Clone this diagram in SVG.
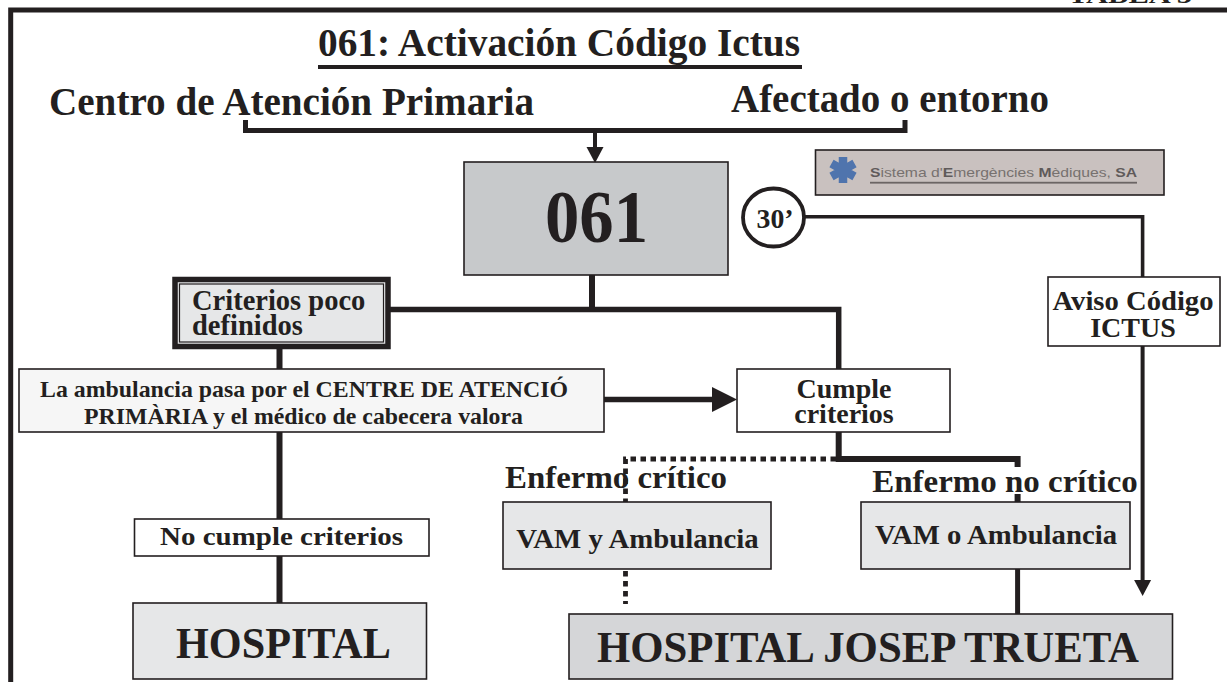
<svg xmlns="http://www.w3.org/2000/svg" width="1227" height="682" viewBox="0 0 1227 682">
<style>
text{font-family:"Liberation Serif","Times New Roman",serif;font-weight:bold;fill:#231f20;text-anchor:middle}
.b{stroke:#231f20;stroke-width:1.6}
.l{fill:none;stroke:#231f20;stroke-linejoin:miter}
.d{fill:none;stroke:#231f20;stroke-width:4.800;stroke-dasharray:5.500 4.500}
.logo{font-family:"Liberation Sans",Arial,sans-serif;font-weight:normal;fill:#77716f;text-anchor:start}
.logo tspan{font-weight:bold;fill:#5f5a5a}
</style>
<defs>
<marker id="a" markerUnits="userSpaceOnUse" markerWidth="17" markerHeight="18" refX="0" refY="9" orient="auto"><path d="M0 0.500L16 9L0 17.500Z" fill="#231f20"/></marker>
<marker id="A" markerUnits="userSpaceOnUse" markerWidth="26" markerHeight="26" refX="0" refY="13" orient="auto"><path d="M0 0.500L25 13L0 25.500Z" fill="#231f20"/></marker>
</defs>
<rect width="1227" height="682" fill="#fff"/>
<g id="frame"><path class="l" stroke-width="5" d="M1227 10H10.700V682"/></g>
<g id="connectors">
<path class="l" stroke-width="5" d="M245.500 120V130.500H905V120"/>
<path class="l" stroke-width="4" marker-end="url(#a)" d="M595 132V147"/>
<path class="l" stroke-width="6" d="M592 275V309"/>
<path class="l" stroke-width="5.500" d="M390 309.500H838.700V369"/>
<path class="l" stroke-width="6" d="M279.500 349V369M279.500 432V519M279.500 556V603"/>
<path class="l" stroke-width="5.500" marker-end="url(#A)" d="M604 399.500H712"/>
<path class="l" stroke-width="6" d="M838.700 432V459H1017.600V467M1017.600 494V502"/>
<path class="d" d="M836 459H625.500V502"/>
<path class="d" d="M625.500 571V604"/>
<path class="l" stroke-width="5" d="M1017.600 569V614"/>
<path class="l" stroke-width="3.600" d="M804 216.800H1142.600V277"/>
<path class="l" stroke-width="4" marker-end="url(#a)" d="M1142.600 346V580"/>
</g>
<g id="tabla"><text x="1130" y="3" font-size="24" textLength="124" lengthAdjust="spacingAndGlyphs">TABLA 5</text></g>
<g id="titulo"><text x="559" y="56" font-size="40" textLength="482" lengthAdjust="spacingAndGlyphs">061: Activación Código Ictus</text><rect x="318" y="65" width="484" height="4" fill="#231f20"/></g>
<g id="centro"><text x="291.500" y="115" font-size="40" textLength="485" lengthAdjust="spacingAndGlyphs">Centro de Atención Primaria</text></g>
<g id="afectado"><text x="890" y="112" font-size="40" textLength="318" lengthAdjust="spacingAndGlyphs">Afectado o entorno</text></g>
<g id="n061"><rect class="b" x="464" y="162" width="264" height="113" fill="#c7c9cb"/><text x="596.500" y="242" font-size="75" textLength="103" lengthAdjust="spacingAndGlyphs">061</text></g>
<g id="logo"><rect class="b" x="815.500" y="150" width="348.500" height="45" fill="#c9c1bf"/>
<path d="M843 157V183M831.500 163.500L854.500 176.500M831.500 176.500L854.500 163.500" fill="none" stroke="#4f74ad" stroke-width="8.500"/>
<text class="logo" x="870" y="177" font-size="13" textLength="267" lengthAdjust="spacingAndGlyphs"><tspan>S</tspan>istema d'<tspan>E</tspan>mergències <tspan>M</tspan>èdiques, <tspan>SA</tspan></text>
<rect x="870" y="181.800" width="267" height="1.800" fill="#6b6564"/></g>
<g id="t30"><ellipse cx="773.500" cy="217.500" rx="30.500" ry="29" fill="#fff" stroke="#231f20" stroke-width="3.800"/><text x="775" y="228" font-size="28" textLength="37" lengthAdjust="spacingAndGlyphs">30’</text></g>
<g id="aviso"><rect class="b" x="1048" y="277" width="172" height="69" fill="#fff"/><text x="1133" y="310" font-size="28" textLength="161" lengthAdjust="spacingAndGlyphs">Aviso Código</text><text x="1133" y="337" font-size="28">ICTUS</text></g>
<g id="criterios"><rect x="175" y="279.500" width="213" height="67" fill="#e6e7e8" stroke="#231f20" stroke-width="5.500"/><rect x="179.500" y="284" width="204" height="58" fill="none" stroke="#231f20" stroke-width="1.200"/><text x="192" y="310" font-size="28.500" style="text-anchor:start">Criterios poco</text><text x="192" y="335" font-size="28.500" style="text-anchor:start">definidos</text></g>
<g id="ambulancia"><rect class="b" x="19" y="369" width="585" height="63" fill="#f6f6f6"/><text x="304" y="397" font-size="22.500" textLength="528" lengthAdjust="spacingAndGlyphs">La ambulancia pasa por el CENTRE DE ATENCIÓ</text><text x="303.500" y="424" font-size="22.500" textLength="439" lengthAdjust="spacingAndGlyphs">PRIMÀRIA y el médico de cabecera valora</text></g>
<g id="cumple"><rect class="b" x="737" y="369" width="213" height="63" fill="#fff"/><text x="844" y="398" font-size="28">Cumple</text><text x="844" y="423" font-size="28">criterios</text></g>
<g id="nocumple"><rect class="b" x="134.500" y="519" width="294.500" height="37" fill="#fff"/><text x="281.500" y="545" font-size="26" textLength="243" lengthAdjust="spacingAndGlyphs">No cumple criterios</text></g>
<g id="hospital"><rect class="b" x="133" y="603" width="293.500" height="76" fill="#e6e7e8"/><text x="283.500" y="658" font-size="44" textLength="215" lengthAdjust="spacingAndGlyphs">HOSPITAL</text></g>
<g id="critico"><text x="616" y="488" font-size="32" textLength="222" lengthAdjust="spacingAndGlyphs">Enfermo crítico</text></g>
<g id="nocritico"><text x="1005" y="492" font-size="32" textLength="265.500" lengthAdjust="spacingAndGlyphs">Enfermo no crítico</text></g>
<g id="vamy"><rect class="b" x="503" y="502" width="268" height="67" fill="#e6e7e8"/><text x="637.500" y="548" font-size="28" textLength="242.500" lengthAdjust="spacingAndGlyphs">VAM y Ambulancia</text></g>
<g id="vamo"><rect class="b" x="861" y="502" width="269" height="67" fill="#e6e7e8"/><text x="996" y="544" font-size="28" textLength="242" lengthAdjust="spacingAndGlyphs">VAM o Ambulancia</text></g>
<g id="josep"><rect class="b" x="569" y="614" width="603.500" height="65" fill="#d5d6d8"/><text x="868" y="662" font-size="44" textLength="542" lengthAdjust="spacingAndGlyphs">HOSPITAL JOSEP TRUETA</text></g>
</svg>
